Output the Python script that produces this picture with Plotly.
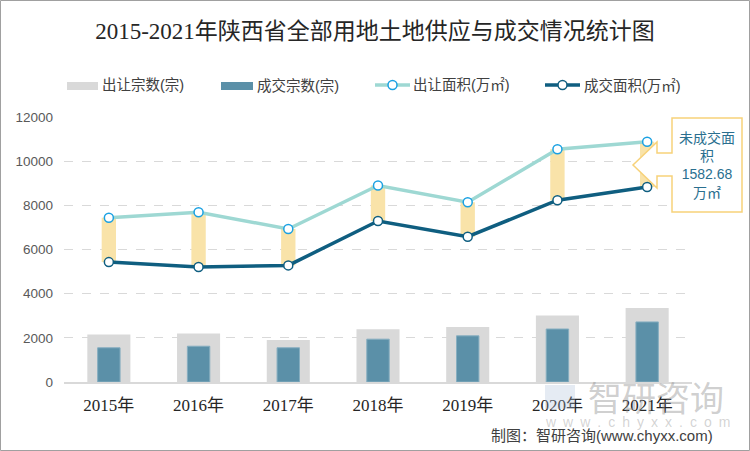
import plotly.graph_objects as go

years = ["2015年", "2016年", "2017年", "2018年", "2019年", "2020年", "2021年"]
supply_count = [2150, 2200, 1900, 2390, 2490, 3010, 3350]   # 出让宗数(宗)
deal_count = [1550, 1620, 1550, 1940, 2090, 2400, 2720]     # 成交宗数(宗)
supply_area = [7440, 7690, 6930, 8900, 8140, 10540, 10880]  # 出让面积(万㎡)
deal_area = [5430, 5210, 5280, 7290, 6580, 8230, 8830]      # 成交面积(万㎡)
y_ticks = [0, 2000, 4000, 6000, 8000, 10000, 12000]
callout_text = "未成交面<br>积<br>1582.68<br>万㎡"

gap = [s - d for s, d in zip(supply_area, deal_area)]

# plot area in pixels
L, R, T, B = 64, 692, 117, 382
W, H = R - L, B - T
def PX(x):
    return (x - L) / W
def PY(y):
    return (B - y) / H

CJK = "Noto Sans CJK SC"
SANS = "Liberation Sans, " + CJK
SERIF = "Liberation Serif, " + CJK

C_GRAY = "#D9D9D9"
C_BAR = "#5B90A8"
C_LIGHT = "#9ED8D3"
C_DARK = "#0F5E80"
C_MK = "#1BA1E2"
C_YEL = "#F9E3A9"

fig = go.Figure()
fig.add_trace(go.Bar(x=years, y=supply_count, width=0.48, name="出让宗数(宗)",
                     marker=dict(color=C_GRAY, line=dict(width=0)), showlegend=False))
fig.add_trace(go.Bar(x=years, y=deal_count, width=0.25, name="成交宗数(宗)",
                     marker=dict(color=C_BAR, line=dict(width=1, color="#86AEC0")), showlegend=False))
fig.add_trace(go.Bar(x=years, y=gap, base=deal_area, width=0.16, name="未成交",
                     marker=dict(color=C_YEL, line=dict(width=0)), showlegend=False))
fig.add_trace(go.Scatter(x=years, y=supply_area, mode="lines+markers", name="出让面积(万㎡)",
                         line=dict(color=C_LIGHT, width=3.5),
                         marker=dict(size=9, color="white", line=dict(color=C_MK, width=1.5)),
                         showlegend=False, cliponaxis=False))
fig.add_trace(go.Scatter(x=years, y=deal_area, mode="lines+markers", name="成交面积(万㎡)",
                         line=dict(color=C_DARK, width=3.5),
                         marker=dict(size=9, color="white", line=dict(color=C_DARK, width=1.5)),
                         showlegend=False, cliponaxis=False))

shapes = []
ann = []

# manual legend
ly = 85
shapes.append(dict(type="rect", xref="paper", yref="paper", x0=PX(67), x1=PX(98), y0=PY(90), y1=PY(82),
                   fillcolor=C_GRAY, line=dict(width=0)))
shapes.append(dict(type="rect", xref="paper", yref="paper", x0=PX(221), x1=PX(253), y0=PY(90), y1=PY(82),
                   fillcolor=C_BAR, line=dict(width=0)))
for x0, x1, lc, mc in [(375, 410, C_LIGHT, C_MK), (545, 580, C_DARK, C_DARK)]:
    shapes.append(dict(type="line", xref="paper", yref="paper", x0=PX(x0), x1=PX(x1), y0=PY(ly), y1=PY(ly),
                       line=dict(color=lc, width=3.5)))
    cx = (x0 + x1) / 2
    shapes.append(dict(type="circle", xref="paper", yref="paper", x0=PX(cx - 4.5), x1=PX(cx + 4.5),
                       y0=PY(ly + 4.5), y1=PY(ly - 4.5), fillcolor="white", line=dict(color=mc, width=1.5)))
for x, t in [(100, "出让宗数(宗)"), (255, "成交宗数(宗)"), (411, "出让面积(万㎡)"), (582, "成交面积(万㎡)")]:
    ann.append(dict(xref="paper", yref="paper", x=PX(x), y=PY(ly), xanchor="left", yanchor="middle",
                    text=t, showarrow=False, font=dict(family=SANS, size=14.5, color="#404040")))

# callout
pts = [(672, 118), (742, 118), (742, 212), (672, 212), (672, 176), (657, 176), (657, 188),
       (633, 165), (657, 142), (657, 153), (672, 153)]
path = "M " + " L ".join(f"{PX(x):.5f},{PY(y):.5f}" for x, y in pts) + " Z"
shapes.append(dict(type="path", xref="paper", yref="paper", path=path, fillcolor="white",
                   line=dict(color="#F7D27A", width=1.5), layer="above"))
ann.append(dict(xref="paper", yref="paper", x=PX(707), y=PY(165), xanchor="center", yanchor="middle",
                text=callout_text, showarrow=False, align="center",
                font=dict(family=SANS, size=14, color="#2A6F8F")))

# watermark
ann.append(dict(xref="paper", yref="paper", x=PX(656), y=PY(396), xanchor="center", yanchor="middle",
                text="智研咨询", showarrow=False,
                font=dict(family=CJK, size=34, color="rgba(140,140,140,0.42)")))
ann.append(dict(xref="paper", yref="paper", x=PX(637), y=PY(422), xanchor="center", yanchor="middle",
                text="w\u2002w\u2002w\u2002.\u2002c\u2002h\u2002y\u2002x\u2002x\u2002.\u2002c\u2002o\u2002m",
                showarrow=False, font=dict(family="Liberation Sans", size=14, color="rgba(150,150,150,0.42)")))
shapes.append(dict(type="rect", xref="paper", yref="paper", x0=PX(545), x1=PX(575), y0=PY(409), y1=PY(385),
                   fillcolor="rgba(170,190,215,0.3)", line=dict(width=0), layer="above"))

# footer
ann.append(dict(xref="paper", yref="paper", x=PX(715), y=PY(435), xanchor="right", yanchor="middle",
                text="制图：智研咨询(www.chyxx.com)", showarrow=False,
                font=dict(family=SANS, size=15, color="#404040")))

# outer border
shapes.append(dict(type="rect", xref="paper", yref="paper", x0=PX(0.5), x1=PX(749.5), y0=PY(450.5), y1=PY(0.5),
                   line=dict(color="#A0A0A0", width=1), layer="above"))

fig.update_layout(
    width=750, height=451,
    margin=dict(l=L, r=750 - R, t=T, b=451 - B),
    paper_bgcolor="white", plot_bgcolor="white",
    barmode="overlay", showlegend=False,
    title=dict(text="2015-2021年陕西省全部用地土地供应与成交情况统计图", x=0.5, xanchor="center",
               y=1 - 31 / 451, yanchor="middle", font=dict(family=SERIF, size=23, color="#262626")),
    xaxis=dict(type="category", range=[-0.5, 6.5], showgrid=False, showline=True, linecolor=C_GRAY,
               linewidth=2, ticks="", tickfont=dict(family=SERIF, size=17, color="#262626"),
               ticklabelstandoff=7),
    yaxis=dict(range=[0, 12000], tickvals=y_ticks, tickformat="d", showgrid=True, gridcolor=C_GRAY,
               griddash="dash", gridwidth=1, zeroline=False, showline=False, ticks="",
               tickfont=dict(family="Liberation Sans", size=13.5, color="#595959"), ticklabelstandoff=10),
    shapes=shapes, annotations=ann,
)

fig.write_html("out.html", config={"displayModeBar": False},
               post_script="document.body.style.margin='0';document.body.style.overflow='hidden';")
